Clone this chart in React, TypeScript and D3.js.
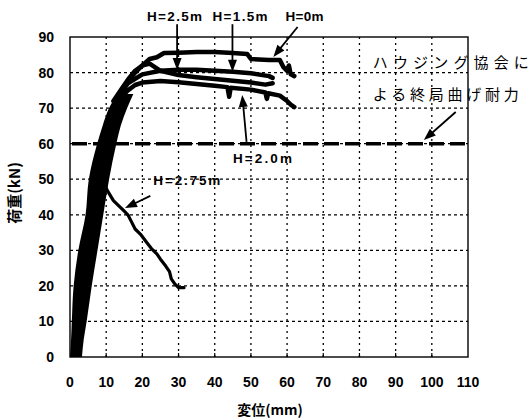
import React from "react";
import * as d3 from "d3";

// ---- data ----
const xTicks = [0, 10, 20, 30, 40, 50, 60, 70, 80, 90, 100, 110];
const yTicks = [0, 10, 20, 30, 40, 50, 60, 70, 80, 90];
const ultimateLoad = 60; // ハウジング協会による終局曲げ耐力

// rising envelope of all specimens (load, left disp, right disp)
const envLoad = [0, 5, 10, 20, 30, 40, 50, 60, 65, 70, 74];
const envLeft = [0, 0.3, 0.5, 1, 2.3, 4.3, 5.2, 7.5, 9, 10.8, 13];
const envRight = [3.3, 3.8, 4.6, 6, 7.6, 9.2, 10.8, 12.8, 14, 15.8, 17.5];

const seriesH0: [number, number][] = [
  [12, 72], [14, 75], [16, 78], [18, 80.5], [20, 82], [22, 83.8], [24, 84.3], [26, 85.5],
  [30, 85.6], [35, 85.8], [40, 85.8], [45, 85.5], [49, 85.2], [50, 83.8], [55, 83.5],
  [58, 83.5], [59, 81.5], [60, 80.5], [60.5, 82], [61, 79.5], [62, 79],
];
const seriesH15: [number, number][] = [
  [14, 74], [16, 77], [20, 79.5], [25, 80.5], [30, 80.8], [35, 80.8], [40, 80.5],
  [45, 80.2], [50, 79.8], [55, 79], [56, 78.5],
];
const seriesH25: [number, number][] = [
  [13, 73], [16, 77.5], [18, 80], [20, 82], [22, 82.5], [25, 80.5], [30, 79.3],
  [35, 78.7], [40, 78.2], [45, 77.7], [50, 77.2], [54, 76.6], [56, 77],
];
const seriesH20: [number, number][] = [
  [12, 70], [14, 73], [16, 75], [18, 76.5], [20, 77.2], [25, 77.6], [30, 77.3], [35, 76.8],
  [40, 76.3], [43.5, 75.9], [44, 73.2], [44.4, 75.7], [50, 75.2], [54, 74.4], [54.4, 72.6],
  [54.8, 74.2], [58, 73.5], [60, 72], [61, 71], [62, 70.3],
];
const seriesH275: [number, number][] = [
  [8, 45], [9.5, 48.5], [10.5, 46.5], [12, 44], [13.5, 42.5], [15, 41], [16, 40],
  [17, 38], [18, 36], [19.5, 34.5], [21, 32.5], [22.5, 30.5], [24, 29], [25, 27.5],
  [26.5, 25.5], [27.5, 24], [28, 22], [29, 20.5], [30, 19.5], [31.5, 19.5],
];

// annotation labels and arrows (data coordinates)
const labelTexts = ["H=2.5m", "H=1.5m", "H=0m", "H=2.0m", "H=2.75m"];
const labelX = [28.9, 47, 64.8, 53.2, 32.3];
const labelY = [94.5, 94.5, 94.5, 54.6, 48.4];
const labelW = [55, 55, 38, 59, 67];

const arrowTail: [number, number][] = [
  [29.6, 93.6], [44.9, 93.6], [62.9, 92.8], [48.8, 60.5], [22.2, 45.3], [106.6, 68.9],
];
const arrowTip: [number, number][] = [
  [29.6, 80.7], [44.9, 80.2], [56.2, 84.4], [47.6, 73.7], [15.2, 41.9], [97.8, 61],
];

const noteLines = ["ハウジング協会に", "よる終局曲げ耐力"];
const noteX = 83.7;
const noteY = [81.3, 72.2];
const noteW = [156, 146];

export default function App() {
  const W = 531, H = 420;
  const x = d3.scaleLinear().domain([0, 110]).range([70, 468]);
  const y = d3.scaleLinear().domain([0, 90]).range([357, 37]);

  const line = d3
    .line<[number, number]>()
    .x((d) => x(d[0]))
    .y((d) => y(d[1]));

  const envData = envLoad.map((l, i) => ({ l, a: envLeft[i], b: envRight[i] }));
  const area = d3
    .area<{ l: number; a: number; b: number }>()
    .y((d) => y(d.l))
    .x0((d) => x(d.a))
    .x1((d) => x(d.b))
    .curve(d3.curveMonotoneY);

  const arrowHead = (tail: [number, number], tip: [number, number], len = 12, half = 4.5) => {
    const tx = x(tip[0]), ty = y(tip[1]);
    const sx = x(tail[0]), sy = y(tail[1]);
    const dx = tx - sx, dy = ty - sy;
    const L = Math.hypot(dx, dy);
    const ux = dx / L, uy = dy / L;
    const bx = tx - ux * len, by = ty - uy * len;
    const px = -uy * half, py = ux * half;
    return {
      line: { x1: sx, y1: sy, x2: bx + ux * 2, y2: by + uy * 2 },
      poly: `${tx},${ty} ${bx + px},${by + py} ${bx - px},${by - py}`,
    };
  };

  const sans = "'Liberation Sans', Arial, sans-serif";
  const jp = "'Noto Sans CJK JP', sans-serif";

  return (
    <svg width={W} height={H} style={{ position: "absolute", left: 0, top: 0, background: "#fff" }}>
      <rect width={W} height={H} fill="#fff" />
      {/* grid */}
      {xTicks.slice(1, -1).map((t) => (
        <line key={"gx" + t} x1={x(t)} x2={x(t)} y1={y(0)} y2={y(90)} stroke="#000" strokeWidth={1.3} strokeDasharray="2,4" />
      ))}
      {yTicks.slice(1, -1).map((t) => (
        <line key={"gy" + t} x1={x(0)} x2={x(110)} y1={y(t)} y2={y(t)} stroke="#000" strokeWidth={1.2} strokeDasharray="3,3" />
      ))}
      {/* frame */}
      <rect x={x(0)} y={y(90)} width={x(110) - x(0)} height={y(0) - y(90)} fill="none" stroke="#000" strokeWidth={1.4} />
      {/* bottom ticks */}
      {xTicks.slice(1, -1).map((t) => (
        <line key={"tk" + t} x1={x(t)} x2={x(t)} y1={y(0)} y2={y(0) - 4} stroke="#000" strokeWidth={1.2} />
      ))}

      {/* ultimate load dashed line */}
      <line x1={x(0) + 2} x2={x(110)} y1={y(ultimateLoad)} y2={y(ultimateLoad)} stroke="#000" strokeWidth={3.5} strokeDasharray="15,6" />

      {/* envelope */}
      <path d={area(envData) || ""} fill="#000" />
      {/* curves */}
      {[seriesH0, seriesH15, seriesH25, seriesH20].map((s, i) => (
        <path key={"c" + i} d={line(s) || ""} fill="none" stroke="#000" strokeWidth={4.5} strokeLinejoin="round" strokeLinecap="round" />
      ))}
      <path d={line(seriesH275) || ""} fill="none" stroke="#000" strokeWidth={3.2} strokeLinejoin="round" strokeLinecap="round" />

      {/* arrows */}
      {arrowTail.map((t, i) => {
        const a = arrowHead(t, arrowTip[i]);
        return (
          <g key={"ar" + i}>
            <line {...a.line} stroke="#000" strokeWidth={1.8} />
            <polygon points={a.poly} fill="#000" />
          </g>
        );
      })}

      {/* labels */}
      {labelTexts.map((t, i) => (
        <text key={"lb" + i} x={x(labelX[i]) - labelW[i] / 2} y={y(labelY[i])} fontFamily={sans} fontWeight="bold" fontSize={13.5}
          textLength={labelW[i]} lengthAdjust="spacing" fill="#000">
          {t}
        </text>
      ))}
      {noteLines.map((t, i) => (
        <text key={"nt" + i} x={x(noteX)} y={y(noteY[i])} fontFamily={jp} fontSize={15} textLength={noteW[i]} lengthAdjust="spacing" fill="#000">
          {t}
        </text>
      ))}

      {/* tick labels */}
      {xTicks.map((t) => (
        <text key={"xl" + t} x={x(t)} y={387} textAnchor="middle" fontFamily={sans} fontWeight="bold" fontSize={14} fill="#000">
          {t}
        </text>
      ))}
      {yTicks.map((t) => (
        <text key={"yl" + t} x={54} y={y(t) + 5} textAnchor="end" fontFamily={sans} fontWeight="bold" fontSize={14} fill="#000">
          {t}
        </text>
      ))}
      {/* axis titles */}
      <text x={270} y={415} textAnchor="middle" fontFamily={jp} fontWeight="bold" fontSize={14} fill="#000">
        変位(mm)
      </text>
      <text transform="translate(20,193) rotate(-90)" textAnchor="middle" fontFamily={jp} fontWeight="bold" fontSize={15} fill="#000">
        荷重(kN)
      </text>
    </svg>
  );
}
